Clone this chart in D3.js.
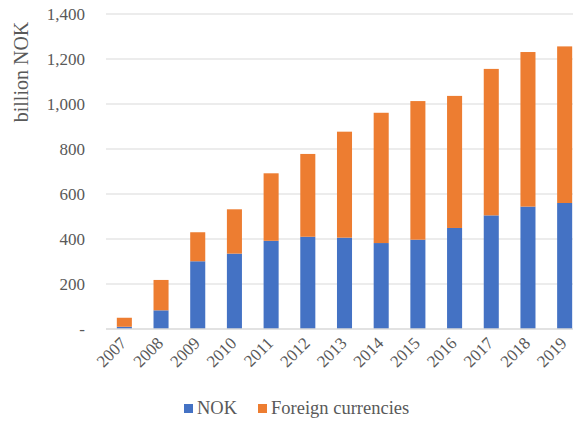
<!DOCTYPE html>
<html>
<head>
<meta charset="utf-8">
<script src="https://cdn.jsdelivr.net/npm/d3@7"></script>
<style>
  body { margin: 0; background: #fff; }
</style>
</head>
<body>
<div id="chart"></div>
<script>
// values, billion NOK
var years = ["2007", "2008", "2009", "2010", "2011", "2012", "2013", "2014", "2015", "2016", "2017", "2018", "2019"];
var nok = [10, 83, 301, 335, 392, 410, 406, 382, 397, 449, 505, 544, 560];
var totals = [50, 218, 430, 532, 692, 778, 877, 961, 1013, 1036, 1156, 1231, 1256];
var yTicks = [0, 200, 400, 600, 800, 1000, 1200, 1400];
var seriesNames = ["NOK", "Foreign currencies"];
var colors = ["#4472c4", "#ed7d31"];

var FONT = '"Liberation Serif", "Times New Roman", Times, serif';
var W = 573, H = 423;
var svg = d3.select("#chart").append("svg")
    .attr("width", W)
    .attr("height", H);

function serif(sel, size) {
  sel.style("font-family", FONT).style("font-size", size + "px").style("fill", "#595959");
}

var rows = years.map(function(d, i) {
  return {year: d, nok: nok[i], foreign: totals[i] - nok[i]};
});
var stack = d3.stack().keys(["nok", "foreign"])(rows);

// plot runs past the right edge of the picture, like the original crop
var x = d3.scaleBand().domain(years).range([106, 583]).paddingInner(0.59).paddingOuter(0.295);
var y = d3.scaleLinear().domain([0, 1400]).range([329, 14]);

// gridlines
svg.append("g")
    .selectAll("line")
    .data(yTicks.slice(1))
    .enter().append("line")
    .attr("x1", 106).attr("x2", W)
    .attr("y1", function(d) { return y(d); })
    .attr("y2", function(d) { return y(d); })
    .attr("stroke", "#d9d9d9")
    .attr("stroke-width", 1);

// y axis labels
var yAxis = d3.axisLeft(y).tickValues(yTicks)
    .tickSize(0).tickPadding(21)
    .tickFormat(function(d) { return d === 0 ? "-" : d3.format(",")(d); });
svg.append("g")
    .attr("transform", "translate(106,0)")
    .call(yAxis)
    .attr("font-family", null)
    .call(function(g) { g.select(".domain").remove(); })
    .selectAll("text")
    .call(serif, 17);

// bars
svg.append("g")
    .selectAll("g")
    .data(stack)
    .enter().append("g")
    .attr("fill", function(d, i) { return colors[i]; })
    .selectAll("rect")
    .data(function(d) { return d; })
    .enter().append("rect")
    .attr("x", function(d) { return x(d.data.year); })
    .attr("width", x.bandwidth())
    .attr("y", function(d) { return y(d[1]); })
    .attr("height", function(d) { return y(d[0]) - y(d[1]); });

// x axis
var xAxis = d3.axisBottom(x).tickSize(0).tickPadding(0);
var gx = svg.append("g")
    .attr("transform", "translate(0," + y(0) + ")")
    .call(xAxis)
    .attr("font-family", null);
gx.select(".domain").attr("stroke", "#d9d9d9").attr("stroke-width", 1.5)
    .attr("d", "M106,0H" + W);
gx.selectAll("text")
    .call(serif, 17)
    .attr("y", 0)
    .attr("text-anchor", "end")
    .attr("dy", "0.35em")
    .attr("transform", "translate(-1,11) rotate(-45)");

// y title
svg.append("text")
    .attr("transform", "translate(28,72) rotate(-90)")
    .attr("text-anchor", "middle")
    .call(serif, 20)
    .text("billion NOK");

// legend
var legend = svg.append("g")
    .selectAll("g")
    .data(seriesNames)
    .enter().append("g")
    .attr("transform", function(d, i) { return "translate(" + (184 + i * 74) + ",404)"; });
legend.append("rect")
    .attr("width", 9).attr("height", 9)
    .attr("fill", function(d, i) { return colors[i]; });
legend.append("text")
    .attr("x", 13).attr("y", 10)
    .call(serif, 18.5)
    .text(function(d) { return d; });
</script>
</body>
</html>
